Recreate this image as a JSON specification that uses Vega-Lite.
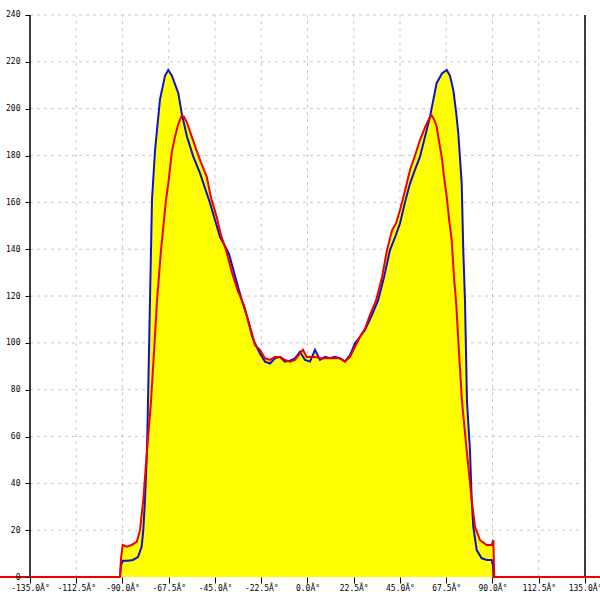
{
  "$schema": "https://vega.github.io/schema/vega-lite/v6.json",
  "width": 600,
  "height": 600,
  "autosize": "none",
  "padding": 0,
  "background": "white",
  "config": {"view": {"stroke": null}},
  "datasets": {
    "curves": [
      {"angle": -149.59, "value": 0, "series": "blue"},
      {"angle": -91.22, "value": 0, "series": "blue"},
      {"angle": -90.73, "value": 5, "series": "blue"},
      {"angle": -89.76, "value": 7, "series": "blue"},
      {"angle": -87.32, "value": 7, "series": "blue"},
      {"angle": -84.89, "value": 7.3, "series": "blue"},
      {"angle": -82.46, "value": 8.5, "series": "blue"},
      {"angle": -80.66, "value": 13, "series": "blue"},
      {"angle": -79.88, "value": 20, "series": "blue"},
      {"angle": -79.05, "value": 33, "series": "blue"},
      {"angle": -78.08, "value": 54, "series": "blue"},
      {"angle": -77.59, "value": 75, "series": "blue"},
      {"angle": -76.62, "value": 118, "series": "blue"},
      {"angle": -75.65, "value": 161, "series": "blue"},
      {"angle": -74.19, "value": 182, "series": "blue"},
      {"angle": -71.76, "value": 204, "series": "blue"},
      {"angle": -69.32, "value": 214, "series": "blue"},
      {"angle": -67.72, "value": 216.5, "series": "blue"},
      {"angle": -65.92, "value": 214, "series": "blue"},
      {"angle": -62.85, "value": 206.6, "series": "blue"},
      {"angle": -61.2, "value": 198, "series": "blue"},
      {"angle": -58.62, "value": 188, "series": "blue"},
      {"angle": -55.56, "value": 179.5, "series": "blue"},
      {"angle": -52.3, "value": 172.5, "series": "blue"},
      {"angle": -47.43, "value": 159.7, "series": "blue"},
      {"angle": -42.57, "value": 145.3, "series": "blue"},
      {"angle": -38.19, "value": 138, "series": "blue"},
      {"angle": -34.78, "value": 127, "series": "blue"},
      {"angle": -31.86, "value": 118, "series": "blue"},
      {"angle": -28.95, "value": 110, "series": "blue"},
      {"angle": -27.0, "value": 103, "series": "blue"},
      {"angle": -25.54, "value": 99.8, "series": "blue"},
      {"angle": -23.11, "value": 95.5, "series": "blue"},
      {"angle": -20.68, "value": 92, "series": "blue"},
      {"angle": -18.24, "value": 91.2, "series": "blue"},
      {"angle": -15.81, "value": 93.4, "series": "blue"},
      {"angle": -13.38, "value": 94, "series": "blue"},
      {"angle": -10.95, "value": 92, "series": "blue"},
      {"angle": -8.51, "value": 92.4, "series": "blue"},
      {"angle": -6.08, "value": 93.4, "series": "blue"},
      {"angle": -3.65, "value": 96.2, "series": "blue"},
      {"angle": -1.22, "value": 92.7, "series": "blue"},
      {"angle": 1.22, "value": 92, "series": "blue"},
      {"angle": 3.65, "value": 97, "series": "blue"},
      {"angle": 6.08, "value": 92.7, "series": "blue"},
      {"angle": 8.51, "value": 94, "series": "blue"},
      {"angle": 10.95, "value": 93.4, "series": "blue"},
      {"angle": 13.38, "value": 94, "series": "blue"},
      {"angle": 15.81, "value": 93.4, "series": "blue"},
      {"angle": 18.24, "value": 92, "series": "blue"},
      {"angle": 20.68, "value": 94.8, "series": "blue"},
      {"angle": 23.11, "value": 99.8, "series": "blue"},
      {"angle": 25.54, "value": 102.6, "series": "blue"},
      {"angle": 27.97, "value": 105.5, "series": "blue"},
      {"angle": 31.38, "value": 112, "series": "blue"},
      {"angle": 34.3, "value": 118, "series": "blue"},
      {"angle": 37.22, "value": 128, "series": "blue"},
      {"angle": 40.13, "value": 139.6, "series": "blue"},
      {"angle": 42.57, "value": 145, "series": "blue"},
      {"angle": 45.0, "value": 151, "series": "blue"},
      {"angle": 47.43, "value": 160, "series": "blue"},
      {"angle": 49.86, "value": 168, "series": "blue"},
      {"angle": 52.3, "value": 174, "series": "blue"},
      {"angle": 54.73, "value": 179.5, "series": "blue"},
      {"angle": 57.16, "value": 188, "series": "blue"},
      {"angle": 59.59, "value": 196.5, "series": "blue"},
      {"angle": 62.85, "value": 211, "series": "blue"},
      {"angle": 65.43, "value": 215, "series": "blue"},
      {"angle": 67.72, "value": 216.5, "series": "blue"},
      {"angle": 69.32, "value": 214, "series": "blue"},
      {"angle": 70.93, "value": 208, "series": "blue"},
      {"angle": 72.24, "value": 199, "series": "blue"},
      {"angle": 73.36, "value": 189.6, "series": "blue"},
      {"angle": 75.02, "value": 168, "series": "blue"},
      {"angle": 75.79, "value": 139.6, "series": "blue"},
      {"angle": 76.62, "value": 118, "series": "blue"},
      {"angle": 77.59, "value": 75, "series": "blue"},
      {"angle": 79.05, "value": 54, "series": "blue"},
      {"angle": 79.88, "value": 33, "series": "blue"},
      {"angle": 80.66, "value": 21.5, "series": "blue"},
      {"angle": 82.31, "value": 11.5, "series": "blue"},
      {"angle": 84.74, "value": 8, "series": "blue"},
      {"angle": 87.32, "value": 7.3, "series": "blue"},
      {"angle": 89.61, "value": 7.3, "series": "blue"},
      {"angle": 90.24, "value": 5, "series": "blue"},
      {"angle": 90.49, "value": 0, "series": "blue"},
      {"angle": 142.3, "value": 0, "series": "blue"},

      {"angle": -149.59, "value": 0, "series": "red"},
      {"angle": -91.22, "value": 0, "series": "red"},
      {"angle": -90.73, "value": 8, "series": "red"},
      {"angle": -89.9, "value": 13.7, "series": "red"},
      {"angle": -87.96, "value": 13, "series": "red"},
      {"angle": -85.52, "value": 13.7, "series": "red"},
      {"angle": -83.09, "value": 15, "series": "red"},
      {"angle": -81.49, "value": 20, "series": "red"},
      {"angle": -79.88, "value": 33, "series": "red"},
      {"angle": -78.08, "value": 54, "series": "red"},
      {"angle": -76.13, "value": 75, "series": "red"},
      {"angle": -74.67, "value": 96, "series": "red"},
      {"angle": -73.22, "value": 118, "series": "red"},
      {"angle": -71.27, "value": 139.6, "series": "red"},
      {"angle": -68.84, "value": 161, "series": "red"},
      {"angle": -67.72, "value": 168, "series": "red"},
      {"angle": -65.92, "value": 182, "series": "red"},
      {"angle": -64.46, "value": 188, "series": "red"},
      {"angle": -63.0, "value": 193, "series": "red"},
      {"angle": -61.2, "value": 197, "series": "red"},
      {"angle": -60.08, "value": 196.5, "series": "red"},
      {"angle": -58.77, "value": 194.4, "series": "red"},
      {"angle": -56.67, "value": 189, "series": "red"},
      {"angle": -53.9, "value": 182, "series": "red"},
      {"angle": -51.81, "value": 177, "series": "red"},
      {"angle": -49.04, "value": 171, "series": "red"},
      {"angle": -46.95, "value": 162, "series": "red"},
      {"angle": -44.17, "value": 153.8, "series": "red"},
      {"angle": -42.08, "value": 146, "series": "red"},
      {"angle": -39.65, "value": 139.6, "series": "red"},
      {"angle": -36.73, "value": 130, "series": "red"},
      {"angle": -33.81, "value": 122, "series": "red"},
      {"angle": -30.89, "value": 116, "series": "red"},
      {"angle": -28.46, "value": 108, "series": "red"},
      {"angle": -27.0, "value": 104, "series": "red"},
      {"angle": -25.54, "value": 99, "series": "red"},
      {"angle": -23.11, "value": 97, "series": "red"},
      {"angle": -20.68, "value": 93.4, "series": "red"},
      {"angle": -18.24, "value": 92.7, "series": "red"},
      {"angle": -15.81, "value": 94, "series": "red"},
      {"angle": -13.38, "value": 94, "series": "red"},
      {"angle": -10.95, "value": 92.7, "series": "red"},
      {"angle": -8.51, "value": 92, "series": "red"},
      {"angle": -6.08, "value": 92.7, "series": "red"},
      {"angle": -3.65, "value": 95.5, "series": "red"},
      {"angle": -2.19, "value": 97, "series": "red"},
      {"angle": -0.39, "value": 94, "series": "red"},
      {"angle": 1.22, "value": 94, "series": "red"},
      {"angle": 3.65, "value": 94, "series": "red"},
      {"angle": 6.08, "value": 93.4, "series": "red"},
      {"angle": 8.51, "value": 93.4, "series": "red"},
      {"angle": 10.95, "value": 93.4, "series": "red"},
      {"angle": 13.38, "value": 93.4, "series": "red"},
      {"angle": 15.81, "value": 93.4, "series": "red"},
      {"angle": 18.24, "value": 92, "series": "red"},
      {"angle": 20.68, "value": 94, "series": "red"},
      {"angle": 23.11, "value": 98.3, "series": "red"},
      {"angle": 25.54, "value": 102.6, "series": "red"},
      {"angle": 27.97, "value": 106, "series": "red"},
      {"angle": 30.41, "value": 112, "series": "red"},
      {"angle": 33.32, "value": 118, "series": "red"},
      {"angle": 36.24, "value": 128, "series": "red"},
      {"angle": 38.68, "value": 139.6, "series": "red"},
      {"angle": 41.11, "value": 148, "series": "red"},
      {"angle": 43.05, "value": 151, "series": "red"},
      {"angle": 45.0, "value": 156.7, "series": "red"},
      {"angle": 47.43, "value": 165, "series": "red"},
      {"angle": 49.86, "value": 173.8, "series": "red"},
      {"angle": 52.3, "value": 180, "series": "red"},
      {"angle": 54.73, "value": 186.6, "series": "red"},
      {"angle": 57.16, "value": 192, "series": "red"},
      {"angle": 59.59, "value": 196.5, "series": "red"},
      {"angle": 60.42, "value": 197, "series": "red"},
      {"angle": 61.54, "value": 195.5, "series": "red"},
      {"angle": 62.85, "value": 192.3, "series": "red"},
      {"angle": 63.97, "value": 186, "series": "red"},
      {"angle": 65.29, "value": 179.5, "series": "red"},
      {"angle": 66.4, "value": 171, "series": "red"},
      {"angle": 67.72, "value": 162.4, "series": "red"},
      {"angle": 68.84, "value": 153, "series": "red"},
      {"angle": 70.15, "value": 144, "series": "red"},
      {"angle": 71.27, "value": 128, "series": "red"},
      {"angle": 72.24, "value": 118, "series": "red"},
      {"angle": 73.7, "value": 96, "series": "red"},
      {"angle": 75.16, "value": 75, "series": "red"},
      {"angle": 77.45, "value": 54, "series": "red"},
      {"angle": 79.88, "value": 33, "series": "red"},
      {"angle": 81.49, "value": 21.5, "series": "red"},
      {"angle": 83.92, "value": 15.8, "series": "red"},
      {"angle": 87.18, "value": 13.7, "series": "red"},
      {"angle": 89.61, "value": 13.7, "series": "red"},
      {"angle": 90.39, "value": 15.8, "series": "red"},
      {"angle": 90.88, "value": 0, "series": "red"},
      {"angle": 142.3, "value": 0, "series": "red"}
    ],
    "xticks": [
      {"t": -135}, {"t": -112.5}, {"t": -90}, {"t": -67.5}, {"t": -45}, {"t": -22.5},
      {"t": 0}, {"t": 22.5}, {"t": 45}, {"t": 67.5}, {"t": 90}, {"t": 112.5}, {"t": 135}
    ],
    "yticks": [
      {"v": 20}, {"v": 40}, {"v": 60}, {"v": 80}, {"v": 100}, {"v": 120},
      {"v": 140}, {"v": 160}, {"v": 180}, {"v": 200}, {"v": 220}, {"v": 240}
    ]
  },
  "layer": [
    {
      "data": {"name": "xticks"},
      "mark": {"type": "rule", "color": "#c8c8c8", "strokeDash": [3, 4], "strokeWidth": 1},
      "encoding": {
        "x": {"field": "t", "type": "quantitative", "scale": {"domain": [-149.59, 142.3], "nice": false, "zero": false}},
        "y": {"datum": 0, "type": "quantitative", "scale": {"domain": [-9.8, 246.4], "nice": false, "zero": false}},
        "y2": {"datum": 240}
      }
    },
    {
      "data": {"name": "yticks"},
      "mark": {"type": "rule", "color": "#c8c8c8", "strokeDash": [3, 4], "strokeWidth": 1},
      "encoding": {
        "y": {"field": "v", "type": "quantitative"},
        "x": {"datum": -135, "type": "quantitative"},
        "x2": {"datum": 134}
      }
    },
    {
      "data": {"name": "curves"},
      "mark": {"type": "area", "color": "#ffff00", "opacity": 1, "interpolate": "linear"},
      "encoding": {
        "x": {"field": "angle", "type": "quantitative",
          "axis": {"values": [-135, -112.5, -90, -67.5, -45, -22.5, 0, 22.5, 45, 67.5, 90, 112.5, 135],
            "orient": "bottom", "offset": -23, "domain": false, "grid": false, "title": null,
            "tickColor": "#000000", "tickSize": 6, "labelPadding": 1,
            "labelFont": "DejaVu Sans Mono", "labelFontSize": 8, "labelColor": "#000000",
            "labelOverlap": false, "labelFlush": false,
            "labelExpr": "(datum.value < 0 ? '-' : '') + format(abs(datum.value), '.1f') + 'Â°'",
            "zindex": 1}},
        "y": {"field": "value", "type": "quantitative", "stack": null,
          "axis": {"values": [0, 20, 40, 60, 80, 100, 120, 140, 160, 180, 200, 220, 240],
            "orient": "left", "offset": -30, "domain": false, "grid": false, "title": null,
            "tickColor": "#000000", "tickSize": 5, "labelPadding": 5,
            "labelFont": "DejaVu Sans Mono", "labelFontSize": 8, "labelColor": "#000000",
            "labelOverlap": false, "labelFlush": false, "zindex": 1}},
        "detail": {"field": "series"}
      }
    },
    {
      "data": {"values": [{"a": -135}, {"a": 135}]},
      "mark": {"type": "rule", "color": "#000000", "strokeWidth": 1.5},
      "encoding": {
        "x": {"field": "a", "type": "quantitative"},
        "y": {"datum": 0, "type": "quantitative"},
        "y2": {"datum": 240}
      }
    },
    {
      "data": {"name": "curves"},
      "mark": {"type": "line", "strokeWidth": 2, "interpolate": "linear"},
      "encoding": {
        "x": {"field": "angle", "type": "quantitative"},
        "y": {"field": "value", "type": "quantitative"},
        "color": {"field": "series", "type": "nominal",
          "scale": {"domain": ["blue", "red"], "range": ["#1010d0", "#ee0000"]}, "legend": null},
        "order": {"field": "angle", "type": "quantitative"}
      }
    }
  ]
}
